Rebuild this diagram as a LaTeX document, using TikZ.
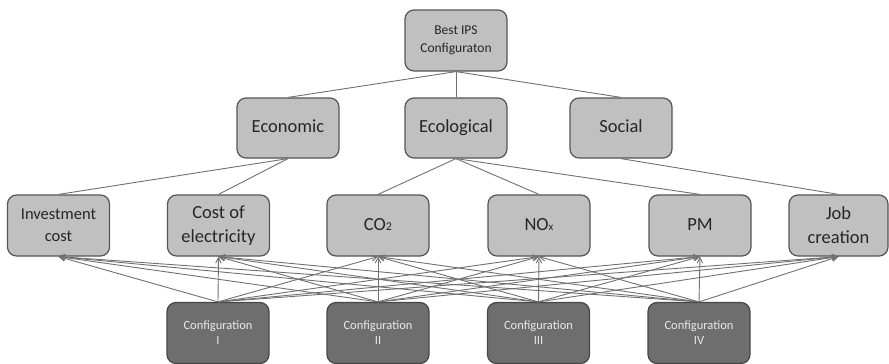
\documentclass[tikz,border=0pt]{standalone}
\usepackage{fontspec}
\setmainfont{Carlito}
\usetikzlibrary{arrows.meta}
\definecolor{boxfill}{HTML}{C0C0C0}
\definecolor{boxline}{HTML}{555555}
\definecolor{altfill}{HTML}{6E6E6E}
\definecolor{altline}{HTML}{464646}
\definecolor{alttext}{HTML}{EAEAEA}
\definecolor{wire}{HTML}{707070}
\begin{document}
\begin{tikzpicture}[x=1pt,y=-1pt,
  crit/.style={rectangle, rounded corners=9pt, draw=boxline, line width=1.2pt,
    fill=boxfill, minimum width=102pt, minimum height=61pt, inner sep=0pt,
    align=center, text=black!85},
  alt/.style={crit, fill=altfill, draw=altline, text=alttext,
    font=\fontsize{12.5}{15}\selectfont},
  big/.style={font=\fontsize{18.5}{24}\selectfont},
  wireline/.style={draw=wire, line width=0.9pt},
  arr/.style={wireline, -{Straight Barb[length=5.5pt,width=5.5pt]}}
]
\useasboundingbox (0,0) rectangle (889,364);

% goal
\node[crit, font=\fontsize{13.5}{17.5}\selectfont] (goal) at (456,40.5) {Best IPS\\Configuraton};

% dimensions
\node[crit, big, minimum height=60pt] (eco) at (288,128) {\strut Economic};
\node[crit, big, minimum height=60pt] (ecl) at (456,128) {\strut Ecological};
\node[crit, big, minimum height=60pt] (soc) at (621,128) {\strut Social};

% criteria
\node[crit, font=\fontsize{16.5}{22}\selectfont] (inv) at (58.5,225.5) {Investment\\cost};
\node[crit, big] (coe) at (218.5,225.5) {Cost of\\electricity};
\node[crit, big] (co2) at (378,225.5) {\strut CO{\fontsize{12}{12}\selectfont 2}};
\node[crit, big] (nox) at (539,225.5) {\strut NO{\fontsize{11}{11}\selectfont x}};
\node[crit, big] (pm)  at (700,225.5) {\strut PM};
\node[crit, big, minimum width=99pt] (job) at (838.5,225.5) {Job\\creation};

% alternatives
\node[alt] (c1) at (218,333) {Configuration\\I};
\node[alt] (c2) at (378,333) {Configuration\\II};
\node[alt] (c3) at (538.5,333) {Configuration\\III};
\node[alt] (c4) at (699,333) {Configuration\\IV};

% hierarchy links
\foreach \d in {eco,ecl,soc} \draw[wireline] (goal.south) -- (\d.north);
\foreach \c in {inv,coe} \draw[wireline] (eco.south) -- (\c.north);
\foreach \c in {co2,nox,pm} \draw[wireline] (ecl.south) -- (\c.north);
\draw[wireline] (soc.south) -- (job.north);

% every configuration is rated on every criterion
\foreach \a in {c1,c2,c3,c4}
  \foreach \c in {inv,coe,co2,nox,pm,job}
    \draw[arr] (\a.north) -- (\c.south);
\end{tikzpicture}
\end{document}
